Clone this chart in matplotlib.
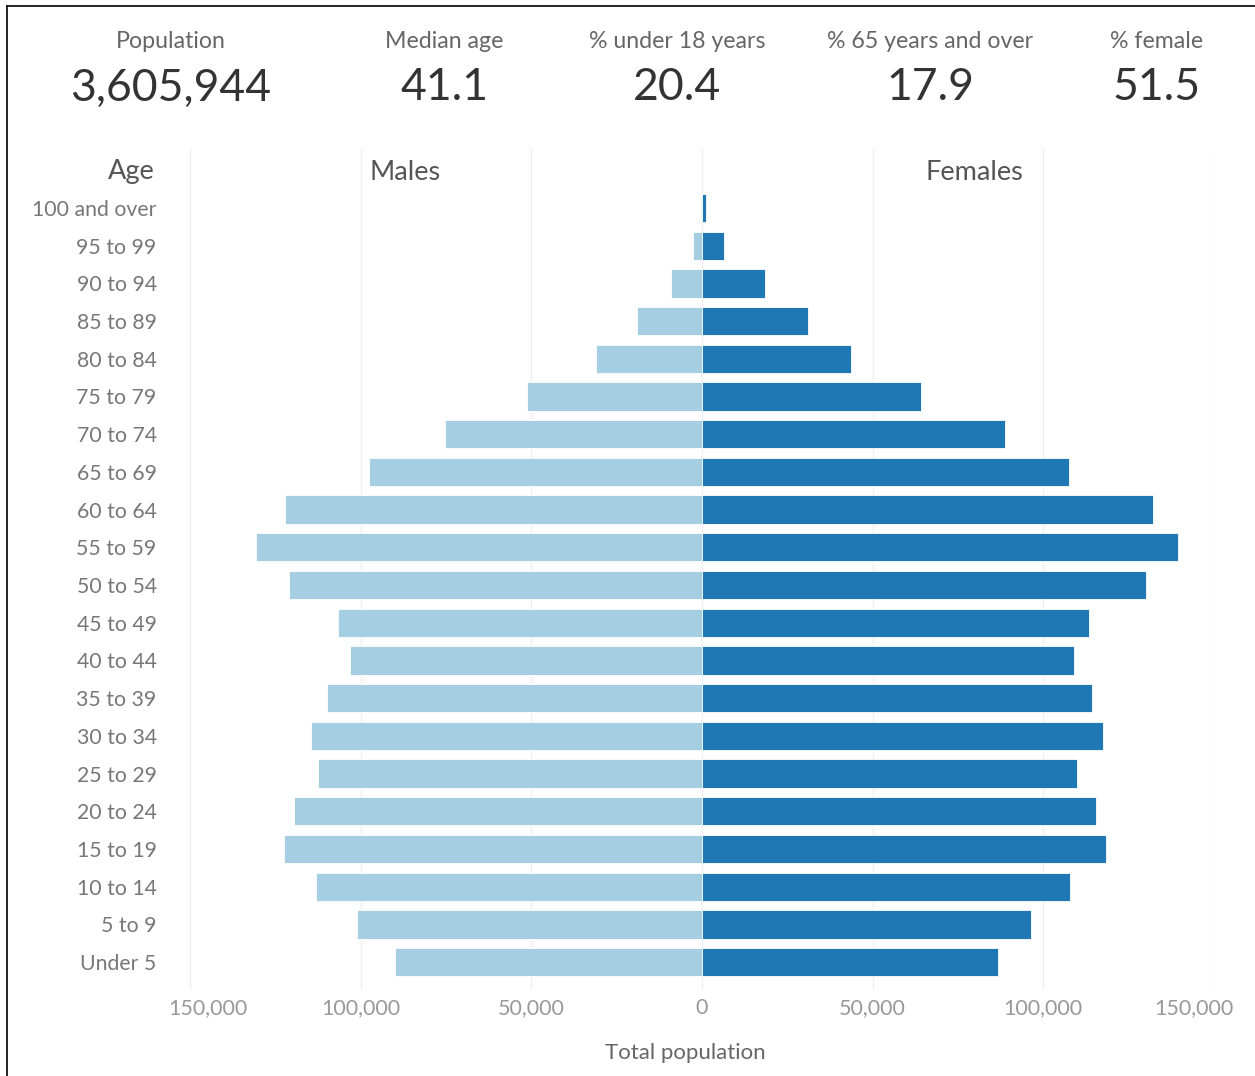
import numpy as np
import matplotlib.pyplot as plt
from matplotlib.lines import Line2D
from matplotlib.transforms import ScaledTranslation

plt.rcParams['font.family'] = ['Lato', 'DejaVu Sans']

# age groups, bottom to top
ages = ['Under 5', '5 to 9', '10 to 14', '15 to 19', '20 to 24', '25 to 29',
        '30 to 34', '35 to 39', '40 to 44', '45 to 49', '50 to 54', '55 to 59',
        '60 to 64', '65 to 69', '70 to 74', '75 to 79', '80 to 84', '85 to 89',
        '90 to 94', '95 to 99', '100 and over']
males = [89900, 101100, 113100, 122400, 119500, 112500, 114500, 109800, 103100,
         106600, 121000, 130600, 122100, 97500, 75300, 51300, 31000, 19000,
         9100, 2600, 300]
females = [86700, 96400, 107800, 118300, 115400, 109800, 117500, 114200, 109000,
           113400, 130100, 139400, 132100, 107500, 88800, 64100, 43600, 31000,
           18500, 6400, 1200]

kpi_labels = ['Population', 'Median age', '% under 18 years', '% 65 years and over', '% female']
kpi_values = ['3,605,944', '41.1', '20.4', '17.9', '51.5']
kpi_x = [171, 444, 677, 930, 1157]

ticks = [-150000, -100000, -50000, 0, 50000, 100000, 150000]

W, H = 1255, 1076
fig = plt.figure(figsize=(W / 100, H / 100), dpi=100)

# axes placed in pixel coords: x 190..1214, y 148..990
ax = fig.add_axes([190 / W, 1 - 990 / H, (1214 - 190) / W, (990 - 148) / H])

y = np.arange(len(ages))
light = '#a6cee3'
dark = '#1f78b4'
ax.barh(y, [-m for m in males], height=0.75, color=light, edgecolor='white', linewidth=0.6, zorder=2)
ax.barh(y, females, height=0.75, color=dark, edgecolor='white', linewidth=0.6, zorder=2)

ax.set_xlim(-150000, 150000)
ax.set_ylim(-0.74, 21.59)
ax.set_xticks(ticks)
ax.set_xticklabels(['{:,}'.format(abs(t)) for t in ticks], fontsize=15.5, color='#999999')
ax.set_yticks(y)
ax.set_yticklabels(ages, fontsize=15.3, color='#777777')
ax.tick_params(axis='y', length=0, pad=24)
ax.tick_params(axis='x', length=0, pad=6)
for s in ax.spines.values():
    s.set_visible(False)
ax.grid(axis='x', color='#eeeeee', linewidth=0.9, zorder=0)
ax.set_axisbelow(True)

# edge tick labels pulled inward, like the reference
xl = ax.get_xticklabels()
xl[0].set_transform(xl[0].get_transform() + ScaledTranslation(0.18, 0, fig.dpi_scale_trans))
xl[-1].set_transform(xl[-1].get_transform() + ScaledTranslation(-0.20, 0, fig.dpi_scale_trans))

ax.set_xlabel('Total population', fontsize=16, color='#666666')
ax.xaxis.set_label_coords((685 - 190) / (1214 - 190), -(1053 - 990) / (990 - 148))
ax.xaxis.label.set_va('center')

# column headers
fig.text(131 / W, 1 - 172 / H, 'Age', ha='center', va='center', fontsize=19.5, color='#555555')
fig.text(405 / W, 1 - 172 / H, 'Males', ha='center', va='center', fontsize=19.5, color='#555555')
fig.text(974 / W, 1 - 172 / H, 'Females', ha='center', va='center', fontsize=19.5, color='#555555')

# KPI strip
for lab, val, x in zip(kpi_labels, kpi_values, kpi_x):
    fig.text(x / W, 1 - 41 / H, lab, ha='center', va='center', fontsize=16.7, color='#666666')
    fig.text(x / W, 1 - 88 / H, val, ha='center', va='center', fontsize=32, color='#333333')

# frame lines (top and left)
fig.add_artist(Line2D([7 / W, 1], [1 - 6 / H, 1 - 6 / H], color='black', linewidth=1.2))
fig.add_artist(Line2D([7 / W, 7 / W], [0, 1 - 6 / H], color='black', linewidth=1.2))

fig.savefig('out.png', dpi=100, facecolor='white')
